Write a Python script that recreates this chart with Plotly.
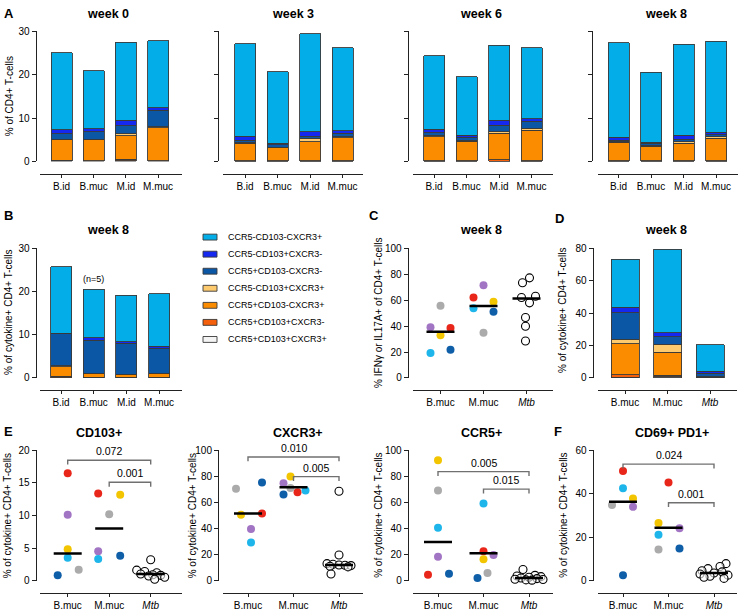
import plotly.graph_objects as go

W, H = 740, 614
FONT = "Liberation Sans, Arial, Helvetica, sans-serif"


def PX(x):
    return x / W


def PY(y):
    return 1 - y / H


# ---------------------------------------------------------------- data
groups_A = ["B.id", "B.muc", "M.id", "M.muc"]
groups_D = ["B.muc", "M.muc", "Mtb"]
groups_dot = ["B.muc", "M.muc", "<i>Mtb</i>"]
weeks = ["week 0", "week 3", "week 6", "week 8"]

# legend order (top -> bottom); stacks are drawn in reverse order (bottom -> top)
subsets = ["CCR5-CD103-CXCR3+", "CCR5-CD103+CXCR3-", "CCR5+CD103-CXCR3-",
           "CCR5-CD103+CXCR3+", "CCR5+CD103-CXCR3+", "CCR5+CD103+CXCR3-",
           "CCR5+CD103+CXCR3+"]
subset_colors = ["#03AEE8", "#1428F0", "#0B57A5", "#FDCB6E", "#FB8C00",
                 "#F4600C", "#F4F4F4"]

# values per subset (same order as `subsets`), one value per group
wk0 = [[17.8, 13.4, 18.0, 15.5], [0.9, 0.7, 1.3, 0.6], [1.25, 1.7, 1.8, 3.8],
       [0.15, 0.1, 0.5, 0.2], [4.75, 4.8, 5.4, 7.6], [0.15, 0.1, 0.4, 0.1],
       [0.1, 0.1, 0.1, 0.1]]
wk3 = [[21.4, 16.5, 22.6, 19.1], [0.9, 0.3, 1.1, 0.6], [0.6, 0.6, 0.6, 0.8],
       [0.1, 0.1, 0.7, 0.2], [4.1, 3.1, 4.35, 5.4], [0.05, 0.05, 0.1, 0.05],
       [0.05, 0.05, 0.05, 0.05]]
wk6 = [[17.0, 13.6, 17.3, 16.4], [0.8, 0.4, 1.1, 0.6], [0.7, 0.8, 1.5, 1.7],
       [0.2, 0.2, 0.35, 0.4], [5.6, 4.5, 6.2, 7.1], [0.05, 0.05, 0.3, 0.05],
       [0.05, 0.05, 0.05, 0.05]]
wk8 = [[21.8, 16.2, 21.0, 21.0], [0.7, 0.2, 0.9, 0.6], [0.4, 0.6, 0.6, 0.4],
       [0.1, 0.1, 0.3, 0.4], [4.3, 3.4, 4.1, 5.2], [0.05, 0.05, 0.05, 0.05],
       [0.05, 0.05, 0.05, 0.05]]
cyto_wk8 = [[15.45, 11.2, 10.7, 12.2], [0.1, 0.6, 0.4, 0.4], [7.4, 7.6, 7.1, 5.8],
            [0.2, 0.1, 0.1, 0.1], [2.25, 0.9, 0.7, 0.9], [0.3, 0.05, 0.05, 0.05],
            [0.05, 0.05, 0.05, 0.05]]
cyto_D = [[29.7, 51.5, 16.4], [3.2, 2.4, 1.2], [16.6, 4.7, 2.0],
          [2.6, 5.0, 0.1], [19.4, 14.2, 0.1], [1.3, 1.0, 0.3],
          [0.5, 0.6, 0.3]]

# donors (filled dots): red, purple, yellow, light blue, grey, dark blue
donor_colors = ["#E8261A", "#A274C4", "#F2C500", "#1DB5EA", "#ABABAB", "#0F5EA8"]

ifn_Bmuc = [38.6, 39.1, 33.0, 19.2, 55.8, 21.7]
ifn_Mmuc = [62.1, 71.5, 58.8, 53.8, 34.8, 51.2]
ifn_Mtb = [77.3, 73.5, 62.1, 63.1, 58.0, 46.7, 39.9, 28.5]
ifn_median = [35.6, 55.5, 61.4]

cd103_Bmuc = [16.5, 10.1, 4.8, 3.5, 1.66, 0.8]
cd103_Mmuc = [13.4, 4.5, 13.2, 3.3, 10.2, 3.8]
cd103_Mtb = [3.2, 1.6, 1.4, 1.2, 1.0, 0.9, 0.8, 0.7, 0.5, 0.2]
cd103_median = [4.17, 8.0, 1.0]
cd103_p = ["0.072", "0.001"]
cd103_plevel = [18.5, 15.1]

cxcr3_Bmuc = [51.5, 39.7, 50.5, 29.2, 70.6, 75.4]
cxcr3_Mmuc = [67.8, 74.8, 79.9, 69.3, 71.1, 66.1]
cxcr3_Mtb = [68.6, 19.6, 13.0, 12.5, 12.0, 11.8, 11.5, 11.0, 10.5, 5.0]
cxcr3_median = [51.5, 71.8, 12.0]
cxcr3_p = ["0.010", "0.005"]
cxcr3_plevel = [95.0, 79.9]

ccr5_Bmuc = [4.5, 18.3, 92.5, 40.5, 69.3, 5.3]
ccr5_Mmuc = [22.6, 19.6, 16.3, 59.3, 5.8, 2.0]
ccr5_Mtb = [8.5, 4.0, 3.5, 3.0, 2.5, 2.0, 1.5, 1.0, 0.8, 0.5, 0.3]
ccr5_median = [29.6, 21.0, 2.0]
ccr5_p = ["0.005", "0.015"]
ccr5_plevel = [83.7, 70.3]

pd1_Bmuc = [50.5, 34.0, 37.8, 42.6, 34.8, 2.4]
pd1_Mmuc = [45.2, 24.1, 26.5, 21.1, 14.3, 14.8]
pd1_Mtb = [7.8, 6.5, 5.5, 4.5, 4.0, 3.5, 3.0, 2.5, 2.0, 1.5, 1.0]
pd1_median = [36.3, 24.3, 3.5]
pd1_p = ["0.024", "0.001"]
pd1_plevel = [53.7, 35.9]

# horizontal jitter of the dots (pixels)
jit_ifn = [[10, -10, 0, -10, 0, 10], [-10, 0, 10, -10, 0, 10],
           [3, -4, -5, 9, 3, -1, -1, -1]]
jit_cd103 = [[0, 0, 0, 0, 11, -10], [-11, -11, 11, -11, 0, 11],
             [0, -14, -6, 6, -10, 2, 10, -2, 14, 4]]
jit_cxcr3 = [[14, 3, -7, 3, -12, 14], [4, -10, -3, 12, -3, -10],
             [0, 0, -12, -6, 0, 6, 12, -9, 9, -8]]
jit_ccr5 = [[-10, 0, 0, 0, 0, 11], [0, 10, 0, 0, 4, -6],
            [-6, 6, -12, 12, 0, -8, 8, -14, 14, -3, 3]]
jit_pd1 = [[0, 10, 10, 0, -11, 0], [0, 11, -10, -10, -10, 11],
           [12, 6, -6, -12, 8, 0, -14, 14, -4, -10, 10]]

# ---------------------------------------------------------------- layout helpers
fig = go.Figure()
layout = dict(width=W, height=H, margin=dict(l=0, r=0, t=0, b=0),
              paper_bgcolor="white", plot_bgcolor="white", showlegend=False,
              barmode="stack", font=dict(family=FONT, size=10, color="black"))
shapes, annotations = [], []
AX = "#222222"


def add_axes(n, xs, xe, c0, sp, xline_y, ticktext, ybot, ytop, ymax, ypos, ytick,
             show_ylab=True):
    xk = "xaxis" if n == 1 else f"xaxis{n}"
    yk = "yaxis" if n == 1 else f"yaxis{n}"
    layout[xk] = dict(domain=[PX(xs), PX(xe)], range=[(xs - c0) / sp, (xe - c0) / sp],
                      anchor="free", position=PY(xline_y), showline=True,
                      linecolor=AX, linewidth=1, ticks="outside", ticklen=3,
                      tickcolor=AX, tickvals=list(range(len(ticktext))),
                      ticktext=ticktext, tickfont=dict(size=10, family=FONT),
                      showgrid=False, zeroline=False)
    layout[yk] = dict(domain=[PY(ybot), PY(ytop)], range=[0, ymax], anchor="free",
                      position=PX(ypos), showline=True, linecolor=AX, linewidth=1,
                      ticks="outside", ticklen=4, tickcolor=AX,
                      tickvals=ytick, showticklabels=show_ylab,
                      tickfont=dict(size=10, family=FONT), showgrid=False,
                      zeroline=False)
    ref = ("x" if n == 1 else f"x{n}", "y" if n == 1 else f"y{n}")
    return ref, sp, (ybot - ytop) / ymax


def add_stack(ref, data, groups, width):
    for i in reversed(range(len(subsets))):
        fig.add_trace(go.Bar(x=list(range(len(groups))), y=data[i], width=width,
                             marker=dict(color=subset_colors[i],
                                         line=dict(color="#3a3a3a", width=0.9)),
                             xaxis=ref[0], yaxis=ref[1], name=subsets[i]))


def add_dots(ref, sp, yscale, bmuc, mmuc, mtb, jit, med, plev=None, ptxt=None):
    for d in range(len(donor_colors)):
        fig.add_trace(go.Scatter(x=[0 + jit[0][d] / sp, 1 + jit[1][d] / sp],
                                 y=[bmuc[d], mmuc[d]], mode="markers",
                                 marker=dict(size=8, color=donor_colors[d]),
                                 cliponaxis=False, xaxis=ref[0], yaxis=ref[1]))
    fig.add_trace(go.Scatter(x=[2 + j / sp for j in jit[2]], y=mtb, mode="markers",
                             marker=dict(size=8, color="rgba(255,255,255,0.6)",
                                         line=dict(color="black", width=1.1)),
                             cliponaxis=False, xaxis=ref[0], yaxis=ref[1]))
    hw = 14 / sp
    for i, m in enumerate(med):
        shapes.append(dict(type="line", xref=ref[0], yref=ref[1], x0=i - hw, x1=i + hw,
                           y0=m, y1=m, line=dict(color="black", width=2.5)))
    if plev:
        drop = 4.5 / yscale
        for (a, b), lv, t in zip([(0, 2), (1, 2)], plev, ptxt):
            shapes.append(dict(type="path", xref=ref[0], yref=ref[1],
                               path=f"M {a},{lv - drop} L {a},{lv} L {b},{lv} L {b},{lv - drop}",
                               line=dict(color="#707070", width=1.4)))
            annotations.append(dict(x=(a + b) / 2, y=lv, xref=ref[0], yref=ref[1],
                                    text=t, showarrow=False, yanchor="bottom",
                                    yshift=1, font=dict(size=10.5, family=FONT)))


def text(x, y, t, size=10, bold=False, angle=0, xanchor="center"):
    annotations.append(dict(x=PX(x), y=PY(y), xref="paper", yref="paper",
                            text=f"<b>{t}</b>" if bold else t, showarrow=False,
                            textangle=angle, xanchor=xanchor, yanchor="middle",
                            font=dict(size=size, family=FONT, color="black")))


# ---------------------------------------------------------------- panel A
A_cfg = [(40, 182, 61.5, 32.2, 35.5), (223, 363, 245, 32.5, 218),
         (413, 553, 434, 32.5, 407.7), (598, 738, 618.5, 32.5, 592)]
A_data = [wk0, wk3, wk6, wk8]
A_title_x = [108, 293, 481, 666]
for k, (xs, xe, c0, sp, yp) in enumerate(A_cfg):
    ref, _, _ = add_axes(k + 1, xs, xe, c0, sp, 171, groups_A, 158.5, 26, 30, yp,
                         [0, 10, 20, 30], show_ylab=(k == 0))
    add_stack(ref, A_data[k], groups_A, 21 / sp)
    text(A_title_x[k], 8, weeks[k], size=12.5, bold=True)
text(9, 8, "A", size=13, bold=True)
text(9, 92, "% of CD4+ T-cells", size=10, angle=-90)

# ---------------------------------------------------------------- panel B
refB, _, _ = add_axes(5, 40, 182, 61, 32.7, 391.7, groups_A, 379.3, 247.3, 30, 35.5,
                      [0, 10, 20, 30])
add_stack(refB, cyto_wk8, groups_A, 21 / 32.7)
text(8, 214, "B", size=13, bold=True)
text(108, 228, "week 8", size=12.5, bold=True)
text(93.5, 278.5, "(n=5)", size=9)
text(9, 313, "% of cytokine+ CD4+ T-cells", size=10, angle=-90)

# legend
for i, s in enumerate(subsets):
    yc = 235.7 + 17.4 * i
    shapes.append(dict(type="rect", xref="paper", yref="paper", x0=PX(203), x1=PX(217),
                       y0=PY(yc + 3), y1=PY(yc - 3), fillcolor=subset_colors[i],
                       line=dict(color="#3a3a3a", width=0.9)))
    text(226, yc, s, size=9, xanchor="left")

# ---------------------------------------------------------------- panel C
refC, spC, ysC = add_axes(6, 412.7, 553.3, 440.5, 43, 391.7, groups_dot, 379.3, 247.3,
                          100, 407.7, [0, 20, 40, 60, 80, 100])
add_dots(refC, spC, ysC, ifn_Bmuc, ifn_Mmuc, ifn_Mtb, jit_ifn, ifn_median)
text(374, 214, "C", size=13, bold=True)
text(481, 228, "week 8", size=12.5, bold=True)
text(379, 313, "% IFNγ or IL17A+ of CD4+ T-cells", size=10, angle=-90)

# ---------------------------------------------------------------- panel D
refD, _, _ = add_axes(7, 598, 737, 625, 42.5, 391.7, groups_dot, 379.3, 247.3, 80,
                      592.5, [0, 20, 40, 60, 80])
add_stack(refD, cyto_D, groups_D, 28 / 42.5)
text(559, 217, "D", size=13, bold=True)
text(666, 228, "week 8", size=12.5, bold=True)
text(563, 311, "% of cytokine+ CD4+ T-cells", size=10, angle=-90)

# ---------------------------------------------------------------- panels E / F
refE1, sp1, ys1 = add_axes(8, 40, 181.7, 67.7, 41.5, 598.3, groups_dot, 586, 453.3, 20,
                           35.5, [0, 5, 10, 15, 20])
add_dots(refE1, sp1, ys1, cd103_Bmuc, cd103_Mmuc, cd103_Mtb, jit_cd103, cd103_median,
         cd103_plevel, cd103_p)
refE2, sp2, ys2 = add_axes(9, 222.7, 363.3, 248, 45.5, 598.3, groups_dot, 586, 453.3,
                           100, 218, [0, 20, 40, 60, 80, 100])
add_dots(refE2, sp2, ys2, cxcr3_Bmuc, cxcr3_Mmuc, cxcr3_Mtb, jit_cxcr3, cxcr3_median,
         cxcr3_plevel, cxcr3_p)
refE3, sp3, ys3 = add_axes(10, 412.7, 553.3, 438, 45.5, 598.3, groups_dot, 586, 453.3,
                           100, 407.7, [0, 20, 40, 60, 80, 100])
add_dots(refE3, sp3, ys3, ccr5_Bmuc, ccr5_Mmuc, ccr5_Mtb, jit_ccr5, ccr5_median,
         ccr5_plevel, ccr5_p)
refF, spF, ysF = add_axes(11, 597.7, 736.7, 623, 45.5, 598.3, groups_dot, 586, 453.3,
                          60, 592.5, [0, 20, 40, 60])
add_dots(refF, spF, ysF, pd1_Bmuc, pd1_Mmuc, pd1_Mtb, jit_pd1, pd1_median,
         pd1_plevel, pd1_p)

text(8, 433.5, "E", size=13, bold=True)
text(558, 433.5, "F", size=13, bold=True)
text(98.5, 435.7, "CD103+", size=12.5, bold=True)
text(298, 435.7, "CXCR3+", size=12.5, bold=True)
text(481, 435.7, "CCR5+", size=12.5, bold=True)
text(672, 435.7, "CD69+ PD1+", size=12.5, bold=True)
for xt in [7.5, 192.5, 379, 564]:
    text(xt, 520, "% of cytokine+ CD4+ T-cells", size=10, angle=-90)

layout["shapes"] = shapes
layout["annotations"] = annotations
fig.update_layout(**layout)
fig.write_html(
    "out.html",
    config={"displayModeBar": False, "staticPlot": True},
    post_script="document.body.style.margin='0';document.body.style.padding='0';"
                "document.body.style.overflow='hidden';",
)
